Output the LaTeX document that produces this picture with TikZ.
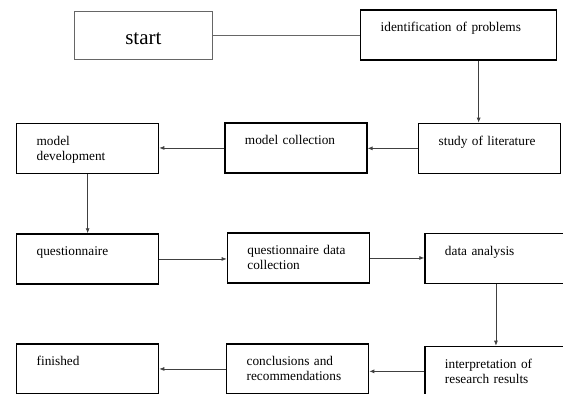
\documentclass[tikz,border=0pt]{standalone}
\usepackage{fontspec}
\setmainfont{Liberation Serif}
\usetikzlibrary{arrows.meta}

\begin{document}
\begin{tikzpicture}[x=1pt,y=-1pt]
        \tikzstyle{every node}=[font=\fontsize{13.3}{15}\selectfont]
        \tikzstyle{stepbox}=[draw=black, line width=1.3pt, anchor=north west, text width=102pt, align=left, inner xsep=20pt, inner ysep=8pt, text height=14pt, text depth=20pt]
        \tikzstyle{link}=[draw=black!75, line width=0.8pt, -{Latex[length=5pt,width=4pt]}]
        \clip (0,0) rectangle (563,394);
        \node[draw=black!60, line width=0.8pt, anchor=north west, minimum width=138pt, minimum height=48.5pt, inner sep=0pt, text height=18pt, text depth=0pt, font=\fontsize{21}{24}\selectfont] (start) at (74,10.7) {start};
        \node[stepbox, text width=156pt] (ident) at (360,9.3) {identification of problems};
        \node[stepbox] (study) at (418,122.7) {study of literature};
        \node[stepbox] (mcol) at (224.3,122.3) {model collection};
        \node[stepbox] (mdev) at (16,122.7) {model\\development};
        \node[stepbox] (quest) at (16,233.3) {questionnaire};
        \node[stepbox] (qdata) at (226.7,232.3) {questionnaire data\\collection};
        \node[stepbox] (analysis) at (424.3,232.7) {data analysis};
        \node[stepbox] (interp) at (424.3,345.7) {interpretation of\\research results};
        \node[stepbox] (concl) at (226,343.3) {conclusions and\\recommendations};
        \node[stepbox] (finished) at (16,343.3) {finished};
        \draw[draw=black!60, line width=0.8pt] (start.east) -- (start.east -| ident.west);
        \draw[link] ([xshift=20pt]ident.south) -- ([xshift=20pt]ident.south |- study.north);
        \draw[link] (study.west) -- (study.west -| mcol.east);
        \draw[link] (mcol.west) -- (mcol.west -| mdev.east);
        \draw[link] (mdev.south) -- (mdev.south |- quest.north);
        \draw[link] (quest.east) -- (quest.east -| qdata.west);
        \draw[link] (qdata.east) -- (qdata.east -| analysis.west);
        \draw[link] (analysis.south) -- (analysis.south |- interp.north);
        \draw[link] (interp.west) -- (interp.west -| concl.east);
        \draw[link] (concl.west) -- (concl.west -| finished.east);
    \end{tikzpicture}
\end{document}
